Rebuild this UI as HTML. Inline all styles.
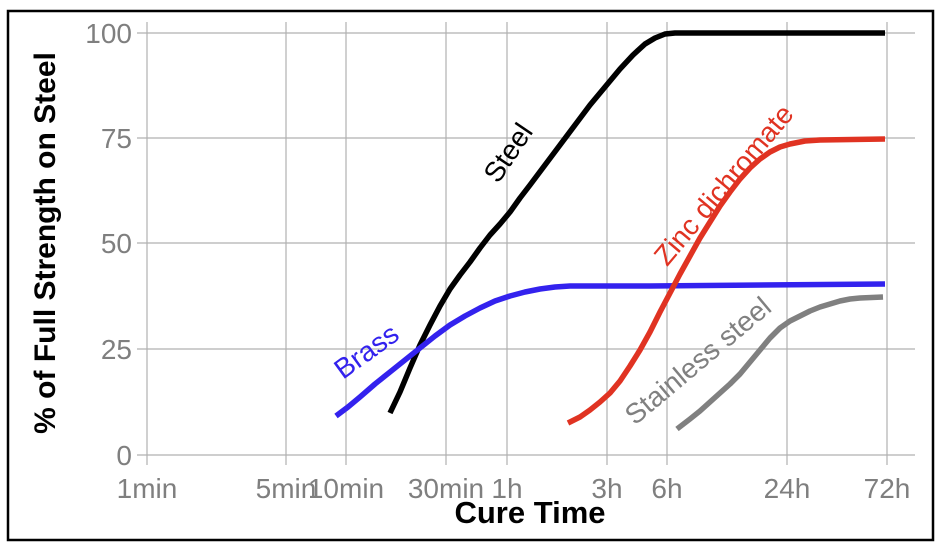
<!DOCTYPE html>
<html><head><meta charset="utf-8"><style>
html,body{margin:0;padding:0;background:#fff;}
svg{display:block;font-family:"Liberation Sans",Arial,sans-serif;}
</style></head><body>
<svg width="945" height="550" viewBox="0 0 945 550" xmlns="http://www.w3.org/2000/svg">
<rect x="8" y="11" width="925" height="529" fill="#fff" stroke="#000" stroke-width="2.5"/>
<g stroke="#b0b0b0" stroke-width="1.2">
<line x1="137" y1="33" x2="915" y2="33"/>
<line x1="137" y1="138" x2="915" y2="138"/>
<line x1="137" y1="243" x2="915" y2="243"/>
<line x1="137" y1="349" x2="915" y2="349"/>
<line x1="137" y1="455" x2="915" y2="455"/>
<line x1="147" y1="22" x2="147" y2="465"/>
<line x1="286" y1="22" x2="286" y2="465"/>
<line x1="346" y1="22" x2="346" y2="465"/>
<line x1="446" y1="22" x2="446" y2="465"/>
<line x1="507" y1="22" x2="507" y2="465"/>
<line x1="607" y1="22" x2="607" y2="465"/>
<line x1="667" y1="22" x2="667" y2="465"/>
<line x1="787" y1="22" x2="787" y2="465"/>
<line x1="887" y1="22" x2="887" y2="465"/>
</g>
<g fill="#7f7f7f" font-size="28" text-anchor="end">
<text x="132" y="43">100</text>
<text x="132" y="148">75</text>
<text x="132" y="253">50</text>
<text x="132" y="359">25</text>
<text x="132" y="465">0</text>
</g>
<g fill="#7f7f7f" font-size="28" text-anchor="middle">
<text x="147" y="498">1min</text>
<text x="286" y="498">5min</text>
<text x="346" y="498">10min</text>
<text x="446" y="498">30min</text>
<text x="507" y="498">1h</text>
<text x="607" y="498">3h</text>
<text x="667" y="498">6h</text>
<text x="787" y="498">24h</text>
<text x="887" y="498">72h</text>
</g>
<text x="530" y="523" font-size="31" font-weight="bold" text-anchor="middle">Cure Time</text>
<text transform="translate(55,243) rotate(-90)" font-size="30" font-weight="bold" text-anchor="middle">% of Full Strength on Steel</text>
<g fill="none" stroke-width="5.5" stroke-linecap="butt" stroke-linejoin="round">
<polyline stroke="#000" points="390,413 400,392 410,368 420,345 430,325 440,306 450,289 460,275 470,262 480,248 490,235 500,224 510,212 520,198 530,185 545,165 560,145 575,125 590,105 605,87 620,69 633,55 645,44 655,38 665,34 675,33 885,33"/>
<polyline stroke="#3322ee" points="336,416 348,407 360,397 375,384 390,372 405,360 420,348 435,336 450,325 465,316 480,308 495,301 510,296 525,292 540,289 555,287 570,286 590,286 650,286 885,284"/>
<polyline stroke="#e03322" points="568,423 580,417 590,410 600,402 610,393 620,381 630,366 640,350 650,332 660,312 670,293 680,274 690,256 700,238 710,222 720,206 730,192 740,179 750,168 760,159 770,152 780,147 790,144 805,141 820,140 885,139"/>
<polyline stroke="#808080" points="677,429 690,419 700,411 710,402 720,393 730,384 740,374 750,362 760,350 770,338 780,328 790,321 800,316 810,311 820,307 830,304 840,301 850,299 860,298 883,297"/>
</g>
<g font-size="28">
<text transform="translate(516,158) rotate(-56)" text-anchor="middle" fill="#000">Steel</text>
<text transform="translate(372,359) rotate(-36)" text-anchor="middle" fill="#3322ee">Brass</text>
<text transform="translate(731,191) rotate(-50)" text-anchor="middle" fill="#e03322">Zinc dichromate</text>
<text transform="translate(704,368) rotate(-40)" text-anchor="middle" fill="#808080">Stainless steel</text>
</g>
</svg>
</body></html>
